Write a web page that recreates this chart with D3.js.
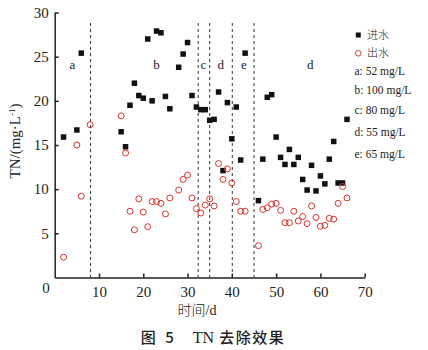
<!DOCTYPE html>
<html>
<head>
<meta charset="utf-8">
<script src="https://cdn.jsdelivr.net/npm/d3@7"></script>
<style>
  html, body { margin: 0; padding: 0; background: #fff; }
  svg { display: block; }
  text { font-family: "Liberation Serif", "DejaVu Serif", serif; fill: #222; }
  .cjk { font-family: "Noto Sans CJK SC", sans-serif; }
</style>
</head>
<body>
<svg id="chart" width="428" height="350"></svg>
<script>
// Influent TN (进水), day -> mg/L
const inDays = [2, 5, 6, 15, 16, 17, 18, 19, 20, 21, 22, 23, 24, 25, 26, 28, 29, 30, 31, 32, 33, 34, 35, 36, 37, 38, 39, 40, 41, 42, 43, 46, 47, 48, 49, 50, 51, 52, 53, 54, 55, 56, 57, 58, 59, 60, 61, 62, 63, 64, 65, 66];
const inValues = [15.9, 16.7, 25.4, 16.5, 14.8, 19.5, 22.0, 20.6, 20.3, 27.0, 20.0, 27.9, 27.7, 20.5, 19.1, 23.8, 25.3, 26.6, 20.6, 19.3, 19.0, 19.0, 17.8, 17.9, 21.0, 12.1, 19.8, 15.7, 19.3, 13.3, 25.4, 8.7, 13.4, 20.4, 20.7, 15.9, 13.6, 12.8, 14.5, 12.8, 13.6, 11.1, 9.9, 12.7, 9.8, 11.5, 10.6, 13.4, 15.4, 10.7, 10.7, 17.9];

// Effluent TN (出水), day -> mg/L
const outDays = [2, 5, 6, 8, 15, 16, 17, 18, 19, 20, 21, 22, 23, 24, 25, 26, 28, 29, 30, 31, 32, 33, 34, 35, 36, 37, 38, 39, 40, 41, 42, 43, 46, 47, 48, 49, 50, 51, 52, 53, 54, 55, 56, 57, 58, 59, 60, 61, 62, 63, 64, 65, 66];
const outValues = [2.3, 15.0, 9.2, 17.3, 18.3, 14.1, 7.5, 5.4, 8.9, 7.4, 5.75, 8.6, 8.6, 8.4, 7.2, 9.0, 9.9, 11.1, 11.6, 9.0, 7.8, 7.3, 8.2, 8.9, 8.1, 12.9, 11.1, 12.3, 10.7, 8.6, 7.5, 7.5, 3.6, 7.7, 7.9, 8.3, 8.4, 7.6, 6.2, 6.2, 7.5, 6.4, 6.9, 6.1, 8.1, 6.8, 5.8, 5.9, 6.7, 6.6, 8.4, 10.3, 9.0];

// Phase boundaries (day) and phase labels with the day they sit over
const phaseBreaks = [8.1, 32.4, 35, 40.1, 45];
const phaseLabels = ["a", "b", "c", "d", "e", "d"];
const phaseLabelDays = [4, 23, 33.6, 37.5, 42.7, 57.7];
const phaseLabelValue = 23.6;

// Influent loading legend
const loadKeys = ["a", "b", "c", "d", "e"];
const loadTexts = ["52 mg/L", "100 mg/L", "80 mg/L", "55 mg/L", "65 mg/L"];

const xTicks = [10, 20, 30, 40, 50, 60, 70];
const yTicks = [5, 10, 15, 20, 25, 30];

const svg = d3.select("#chart");
const plotLeft = 54.7, plotRight = 364.7, plotTop = 12.5, plotBottom = 277.5;

const x = d3.scaleLinear().domain([0, 70]).range([plotLeft, plotRight]);
const y = d3.scaleLinear().domain([0, 30]).range([plotBottom, plotTop]);

// phase divider lines
svg.append("g").selectAll("line").data(phaseBreaks).join("line")
  .attr("x1", d => x(d)).attr("x2", d => x(d))
  .attr("y1", 23).attr("y2", plotBottom)
  .attr("stroke", "#333").attr("stroke-width", 1)
  .attr("stroke-dasharray", "3,3");

// axes
const xAxis = svg.append("g").attr("transform", `translate(0,${plotBottom})`)
  .call(d3.axisBottom(x).tickValues(xTicks).tickSizeInner(-4).tickSizeOuter(0).tickPadding(8));
const yAxis = svg.append("g").attr("transform", `translate(${plotLeft},0)`)
  .call(d3.axisLeft(y).tickValues(yTicks).tickSizeInner(-4).tickSizeOuter(0).tickPadding(6));
[xAxis, yAxis].forEach(g => {
  g.select(".domain").attr("stroke", "#222").attr("stroke-width", 1.5);
  g.selectAll(".tick line").attr("stroke", "#222").attr("stroke-width", 1.5);
  g.selectAll(".tick text")
    .style("font-family", '"Liberation Serif", serif')
    .style("font-size", "15px").attr("fill", "#333");
});
xAxis.selectAll(".tick text").attr("dy", "0.78em");
// shared origin label
svg.append("text").attr("x", 46).attr("y", 293).attr("text-anchor", "middle")
  .style("font-size", "15px").attr("fill", "#333").text("0");

// phase labels
svg.append("g").selectAll("text").data(phaseLabels).join("text")
  .attr("x", (d, i) => x(phaseLabelDays[i]))
  .attr("y", y(phaseLabelValue))
  .attr("text-anchor", "middle")
  .style("font-size", "13px")
  .text(d => d);

// influent squares
const sq = 5.5;
svg.append("g").selectAll("rect").data(inDays).join("rect")
  .attr("x", (d, i) => x(d) - sq / 2)
  .attr("y", (d, i) => y(inValues[i]) - sq / 2)
  .attr("width", sq).attr("height", sq)
  .attr("fill", "#111");

// effluent circles
svg.append("g").selectAll("circle").data(outDays).join("circle")
  .attr("cx", d => x(d))
  .attr("cy", (d, i) => y(outValues[i]))
  .attr("r", 3)
  .attr("fill", "none")
  .attr("stroke", "#d8342c").attr("stroke-width", 1);

// legend
const lg = svg.append("g");
lg.append("rect").attr("x", 358.3 - 2.5).attr("y", 35 - 2.5).attr("width", 5).attr("height", 5).attr("fill", "#111");
lg.append("text").attr("class", "cjk").attr("x", 367).attr("y", 35).attr("dy", "0.35em")
  .style("font-size", "11px").style("font-weight", 300).text("进水");
lg.append("circle").attr("cx", 358.3).attr("cy", 53.3).attr("r", 2.8)
  .attr("fill", "none").attr("stroke", "#d8342c").attr("stroke-width", 1);
lg.append("text").attr("class", "cjk").attr("x", 367).attr("y", 53.3).attr("dy", "0.35em")
  .style("font-size", "11px").style("font-weight", 300).text("出水");
const lgY = [71, 90, 110, 131.7, 154];
lg.selectAll("text.load").data(loadKeys).join("text")
  .attr("class", "load")
  .attr("x", 354.5)
  .attr("y", (d, i) => lgY[i])
  .attr("dy", "0.35em")
  .style("font-size", "11.5px")
  .text((d, i) => `${d}: ${loadTexts[i]}`);

// axis titles
const yl = svg.append("text")
  .attr("transform", "translate(20,141) rotate(-90)")
  .attr("text-anchor", "middle")
  .style("font-size", "15px");
yl.append("tspan").text("TN/(mg·L");
yl.append("tspan").attr("dy", -5).style("font-size", "9px").text("-1");
yl.append("tspan").attr("dy", 5).text(")");

const xl = svg.append("text").attr("x", 197).attr("y", 310).attr("dy", "0.35em")
  .attr("text-anchor", "middle").style("font-size", "14px");
xl.append("tspan").attr("class", "cjk").style("font-weight", 300).text("时间");
xl.append("tspan").text("/d");

// caption
const cap = svg.append("text").attr("x", 213).attr("y", 338).attr("dy", "0.35em")
  .attr("text-anchor", "middle").style("font-size", "15px");
cap.append("tspan").attr("class", "cjk").style("font-weight", 500).style("letter-spacing", "3px").text("图 5");
cap.append("tspan").attr("dx", 16).style("font-size", "16px").text("TN");
cap.append("tspan").attr("class", "cjk").attr("dx", 5).style("font-weight", 500).style("letter-spacing", "1.5px").text("去除效果");
</script>
</body>
</html>
